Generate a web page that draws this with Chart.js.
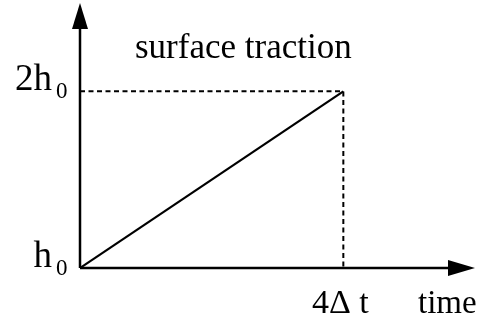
<!DOCTYPE html>
<html>
<head>
<meta charset="utf-8">
<script src="https://cdn.jsdelivr.net/npm/chart.js@4"></script>
<style>
  html, body { margin: 0; padding: 0; background: #fff; }
  canvas { display: block; }
</style>
</head>
<body>
<canvas id="tractionChart" width="480" height="321"></canvas>
<script>
// load history: time in units of Δt, traction in units of h0
const timeSteps = [0, 4];
const traction = [1, 2];

// guide lines at the end of the ramp
const guideTime = [0, 4, 4];
const guideTraction = [2, 2, 1];

// tick labels (main text + subscript)
const yTickValues = [1, 2];
const yTickLabels = [['h', '0'], ['2h', '0']];
const xTickValues = [4];
const xTickLabels = ['4Δ t'];
const xAxisTitle = 'time';
const chartTitle = 'surface traction';

const serif = '"Liberation Serif", "DejaVu Serif", serif';

// draws the arrowed axes and all the text
const axesPlugin = {
  id: 'axesPlugin',
  afterDatasetsDraw(chart) {
    const ctx = chart.ctx;
    const x = chart.scales.x;
    const y = chart.scales.y;
    const x0 = x.getPixelForValue(0);
    const y0 = y.getPixelForValue(1);
    const area = chart.chartArea;

    ctx.save();
    ctx.strokeStyle = '#000';
    ctx.fillStyle = '#000';
    ctx.lineWidth = 2.5;

    // axis lines
    ctx.beginPath();
    ctx.moveTo(x0, y0);
    ctx.lineTo(area.right - 20, y0);
    ctx.moveTo(x0, y0);
    ctx.lineTo(x0, area.top + 20);
    ctx.stroke();

    // arrow heads
    ctx.beginPath();
    ctx.moveTo(area.right, y0);
    ctx.lineTo(area.right - 27, y0 - 8);
    ctx.lineTo(area.right - 27, y0 + 8);
    ctx.closePath();
    ctx.fill();
    ctx.beginPath();
    ctx.moveTo(x0, area.top);
    ctx.lineTo(x0 - 8, area.top + 26);
    ctx.lineTo(x0 + 8, area.top + 26);
    ctx.closePath();
    ctx.fill();

    // y tick labels
    ctx.textBaseline = 'alphabetic';
    yTickValues.forEach((v, i) => {
      const py = y.getPixelForValue(v);
      ctx.font = '37px ' + serif;
      ctx.textAlign = 'right';
      ctx.fillText(yTickLabels[i][0], x0 - 28, py - 1);
      ctx.font = '23px ' + serif;
      ctx.textAlign = 'left';
      ctx.fillText(yTickLabels[i][1], x0 - 24, py + 7);
    });

    // x tick labels
    ctx.font = '34px ' + serif;
    ctx.textAlign = 'center';
    xTickValues.forEach((v, i) => {
      ctx.fillText(xTickLabels[i], x.getPixelForValue(v) - 3, y0 + 45);
    });
    ctx.textAlign = 'left';
    ctx.font = '33px ' + serif;
    ctx.fillText(xAxisTitle, 418, y0 + 45);

    // title
    ctx.font = '35px ' + serif;
    ctx.fillText(chartTitle, 135, 58);
    ctx.restore();
  }
};

new Chart(document.getElementById('tractionChart'), {
  type: 'line',
  data: {
    datasets: [{
      data: timeSteps.map((t, i) => ({ x: t, y: traction[i] })),
      borderColor: '#000',
      borderWidth: 2.2,
      pointRadius: 0
    }, {
      data: guideTime.map((t, i) => ({ x: t, y: guideTraction[i] })),
      borderColor: '#000',
      borderWidth: 2,
      borderDash: [5, 3.5],
      pointRadius: 0
    }]
  },
  options: {
    responsive: false,
    animation: false,
    layout: { padding: { left: 80, right: 5, top: 3, bottom: 53 } },
    plugins: { legend: { display: false }, tooltip: { enabled: false } },
    scales: {
      x: { type: 'linear', display: false, min: 0, max: 6 },
      y: { type: 'linear', display: false, min: 1, max: 2.5 }
    }
  },
  plugins: [axesPlugin]
});
</script>
</body>
</html>
